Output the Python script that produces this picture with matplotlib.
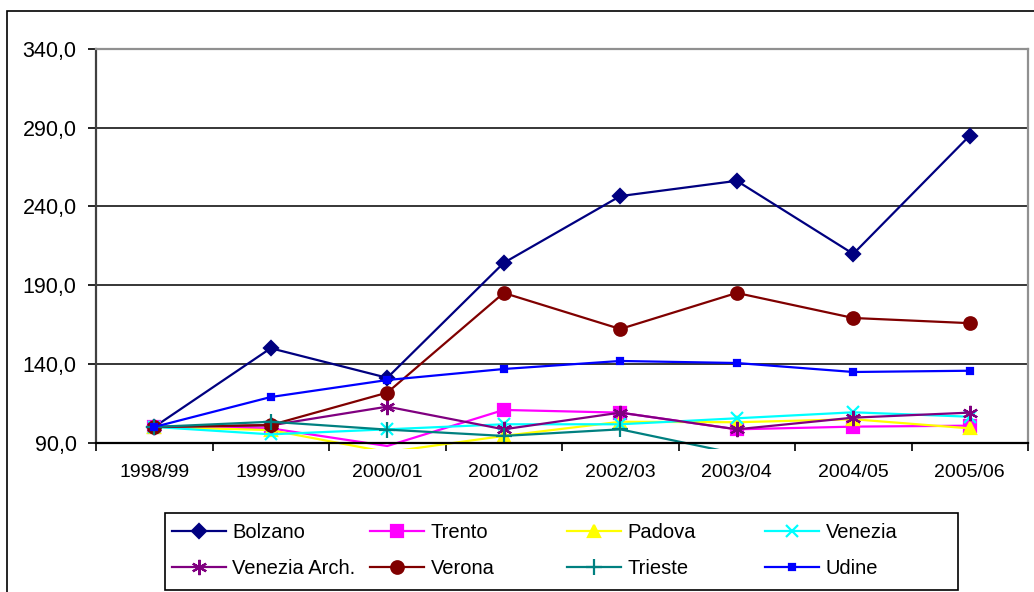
import matplotlib
matplotlib.use("Agg")
import matplotlib.pyplot as plt
from matplotlib.patches import Rectangle
from matplotlib.ticker import FixedLocator, NullFormatter

plt.rcParams['font.family'] = ['Liberation Sans', 'DejaVu Sans']

categories = ["1998/99", "1999/00", "2000/01", "2001/02", "2002/03", "2003/04", "2004/05", "2005/06"]
bolzano = [100.0, 150.0, 131.2, 204.2, 246.6, 256.3, 209.9, 285.0]
trento = [100.0, 99.1, 87.9, 110.8, 109.1, 98.5, 100.2, 100.8]
padova = [100.0, 98.0, 84.0, 94.3, 103.3, 103.0, 104.9, 99.1]
venezia = [100.0, 95.3, 98.5, 101.7, 101.7, 105.5, 109.3, 106.5]
venezia_arch = [100.0, 101.0, 112.9, 98.5, 109.1, 98.5, 105.9, 109.1]
verona = [100.0, 101.2, 121.8, 185.1, 162.2, 185.1, 169.2, 165.9]
trieste = [100.0, 103.3, 98.3, 94.3, 98.5, 83.0, 81.0, 80.0]
udine = [100.0, 119.0, 129.8, 136.8, 141.9, 140.6, 134.9, 135.7]
y_ticks = [90, 140, 190, 240, 290, 340]
y_tick_labels = ["90,0", "140,0", "190,0", "240,0", "290,0", "340,0"]

series = [
    ("Bolzano", bolzano, "#000080", "D", 7, "#000080"),
    ("Trento", trento, "#FF00FF", "s", 8, "#FF00FF"),
    ("Padova", padova, "#FFFF00", "^", 9, "#FFFF00"),
    ("Venezia", venezia, "#00FFFF", "x", 9, "#00FFFF"),
    ("Venezia Arch.", venezia_arch, "#800080", (6, 2, 0), 11, "#800080"),
    ("Verona", verona, "#800000", "o", 9, "#800000"),
    ("Trieste", trieste, "#008080", "+", 11, "#008080"),
    ("Udine", udine, "#0000FF", "s", 5, "#0000FF"),
]

W, H = 1034, 592
fig = plt.figure(figsize=(W / 100, H / 100), dpi=100)
ax = fig.add_axes([96 / W, 1 - 442.7 / H, (1028 - 96) / W, (442.7 - 49) / H])

# chart-area border (cropped at right and bottom)
fig.patches.append(Rectangle((7 / W, -0.2), 1.2, 1.2 - 11 / H, transform=fig.transFigure,
                             fill=False, edgecolor="black", linewidth=1.2, zorder=0))

x = list(range(len(categories)))
clip_rect = Rectangle((0, -0.016), 1, 1.03, transform=ax.transAxes)
handles = {}
for name, vals, color, marker, ms, mfc in series:
    ymin = y_ticks[0]
    keep = [i for i, v in enumerate(vals) if v >= ymin]
    ln, = ax.plot(x, vals, color=color, linewidth=1.6, marker=marker, markersize=ms,
                  markerfacecolor=mfc, markeredgecolor=color, markeredgewidth=1.6,
                  markevery=keep, label=name)
    ln.set_clip_path(clip_rect)
    handles[name] = ln

ax.set_xlim(-0.5, len(categories) - 0.5)
ax.set_ylim(y_ticks[0], y_ticks[-1])
ax.set_yticks(y_ticks)
ax.set_yticklabels(y_tick_labels)
ax.set_xticks(x)
ax.set_xticklabels(categories)
ax.xaxis.set_minor_locator(FixedLocator([i - 0.5 for i in range(len(categories) + 1)]))
ax.xaxis.set_minor_formatter(NullFormatter())
ax.tick_params(axis="x", which="major", length=0, pad=15, labelsize=14)
ax.tick_params(axis="x", which="minor", length=6, width=1.2, color="black", direction="out")
ax.tick_params(axis="y", length=6, width=1.2, color="black", pad=8, labelsize=15.5, direction="out")

for yv in y_ticks[1:-1]:
    ax.axhline(yv, color="black", linewidth=1.1, zorder=0.5)

ax.spines["top"].set_color("#909090")
ax.spines["top"].set_linewidth(1.6)
ax.spines["right"].set_color("#909090")
ax.spines["right"].set_linewidth(1.6)
ax.spines["left"].set_color("#404040")
ax.spines["left"].set_linewidth(1.6)
ax.spines["bottom"].set_color("black")
ax.spines["bottom"].set_linewidth(1.6)
ax.set_facecolor("white")

# legend: frame plus four equally spaced columns, filled row-wise
fig.patches.append(Rectangle((165 / W, 1 - 590 / H), (958 - 165) / W, (590 - 513) / H,
                             transform=fig.transFigure, fill=True, facecolor="white",
                             edgecolor="black", linewidth=1.2, zorder=1))
names = [s[0] for s in series]
col_x = [172, 370, 567, 765]
for c in range(4):
    col_names = [names[c], names[c + 4]]
    lg = fig.legend([handles[n] for n in col_names], col_names, loc="upper left",
                    bbox_to_anchor=(col_x[c] / W, 1 - 523 / H), frameon=False,
                    fontsize=14.5, borderaxespad=0, borderpad=0, handlelength=2.7,
                    handletextpad=0.3, numpoints=1, labelspacing=0.85)
    lg.set_zorder(2)

fig.savefig("out.png", dpi=100)
